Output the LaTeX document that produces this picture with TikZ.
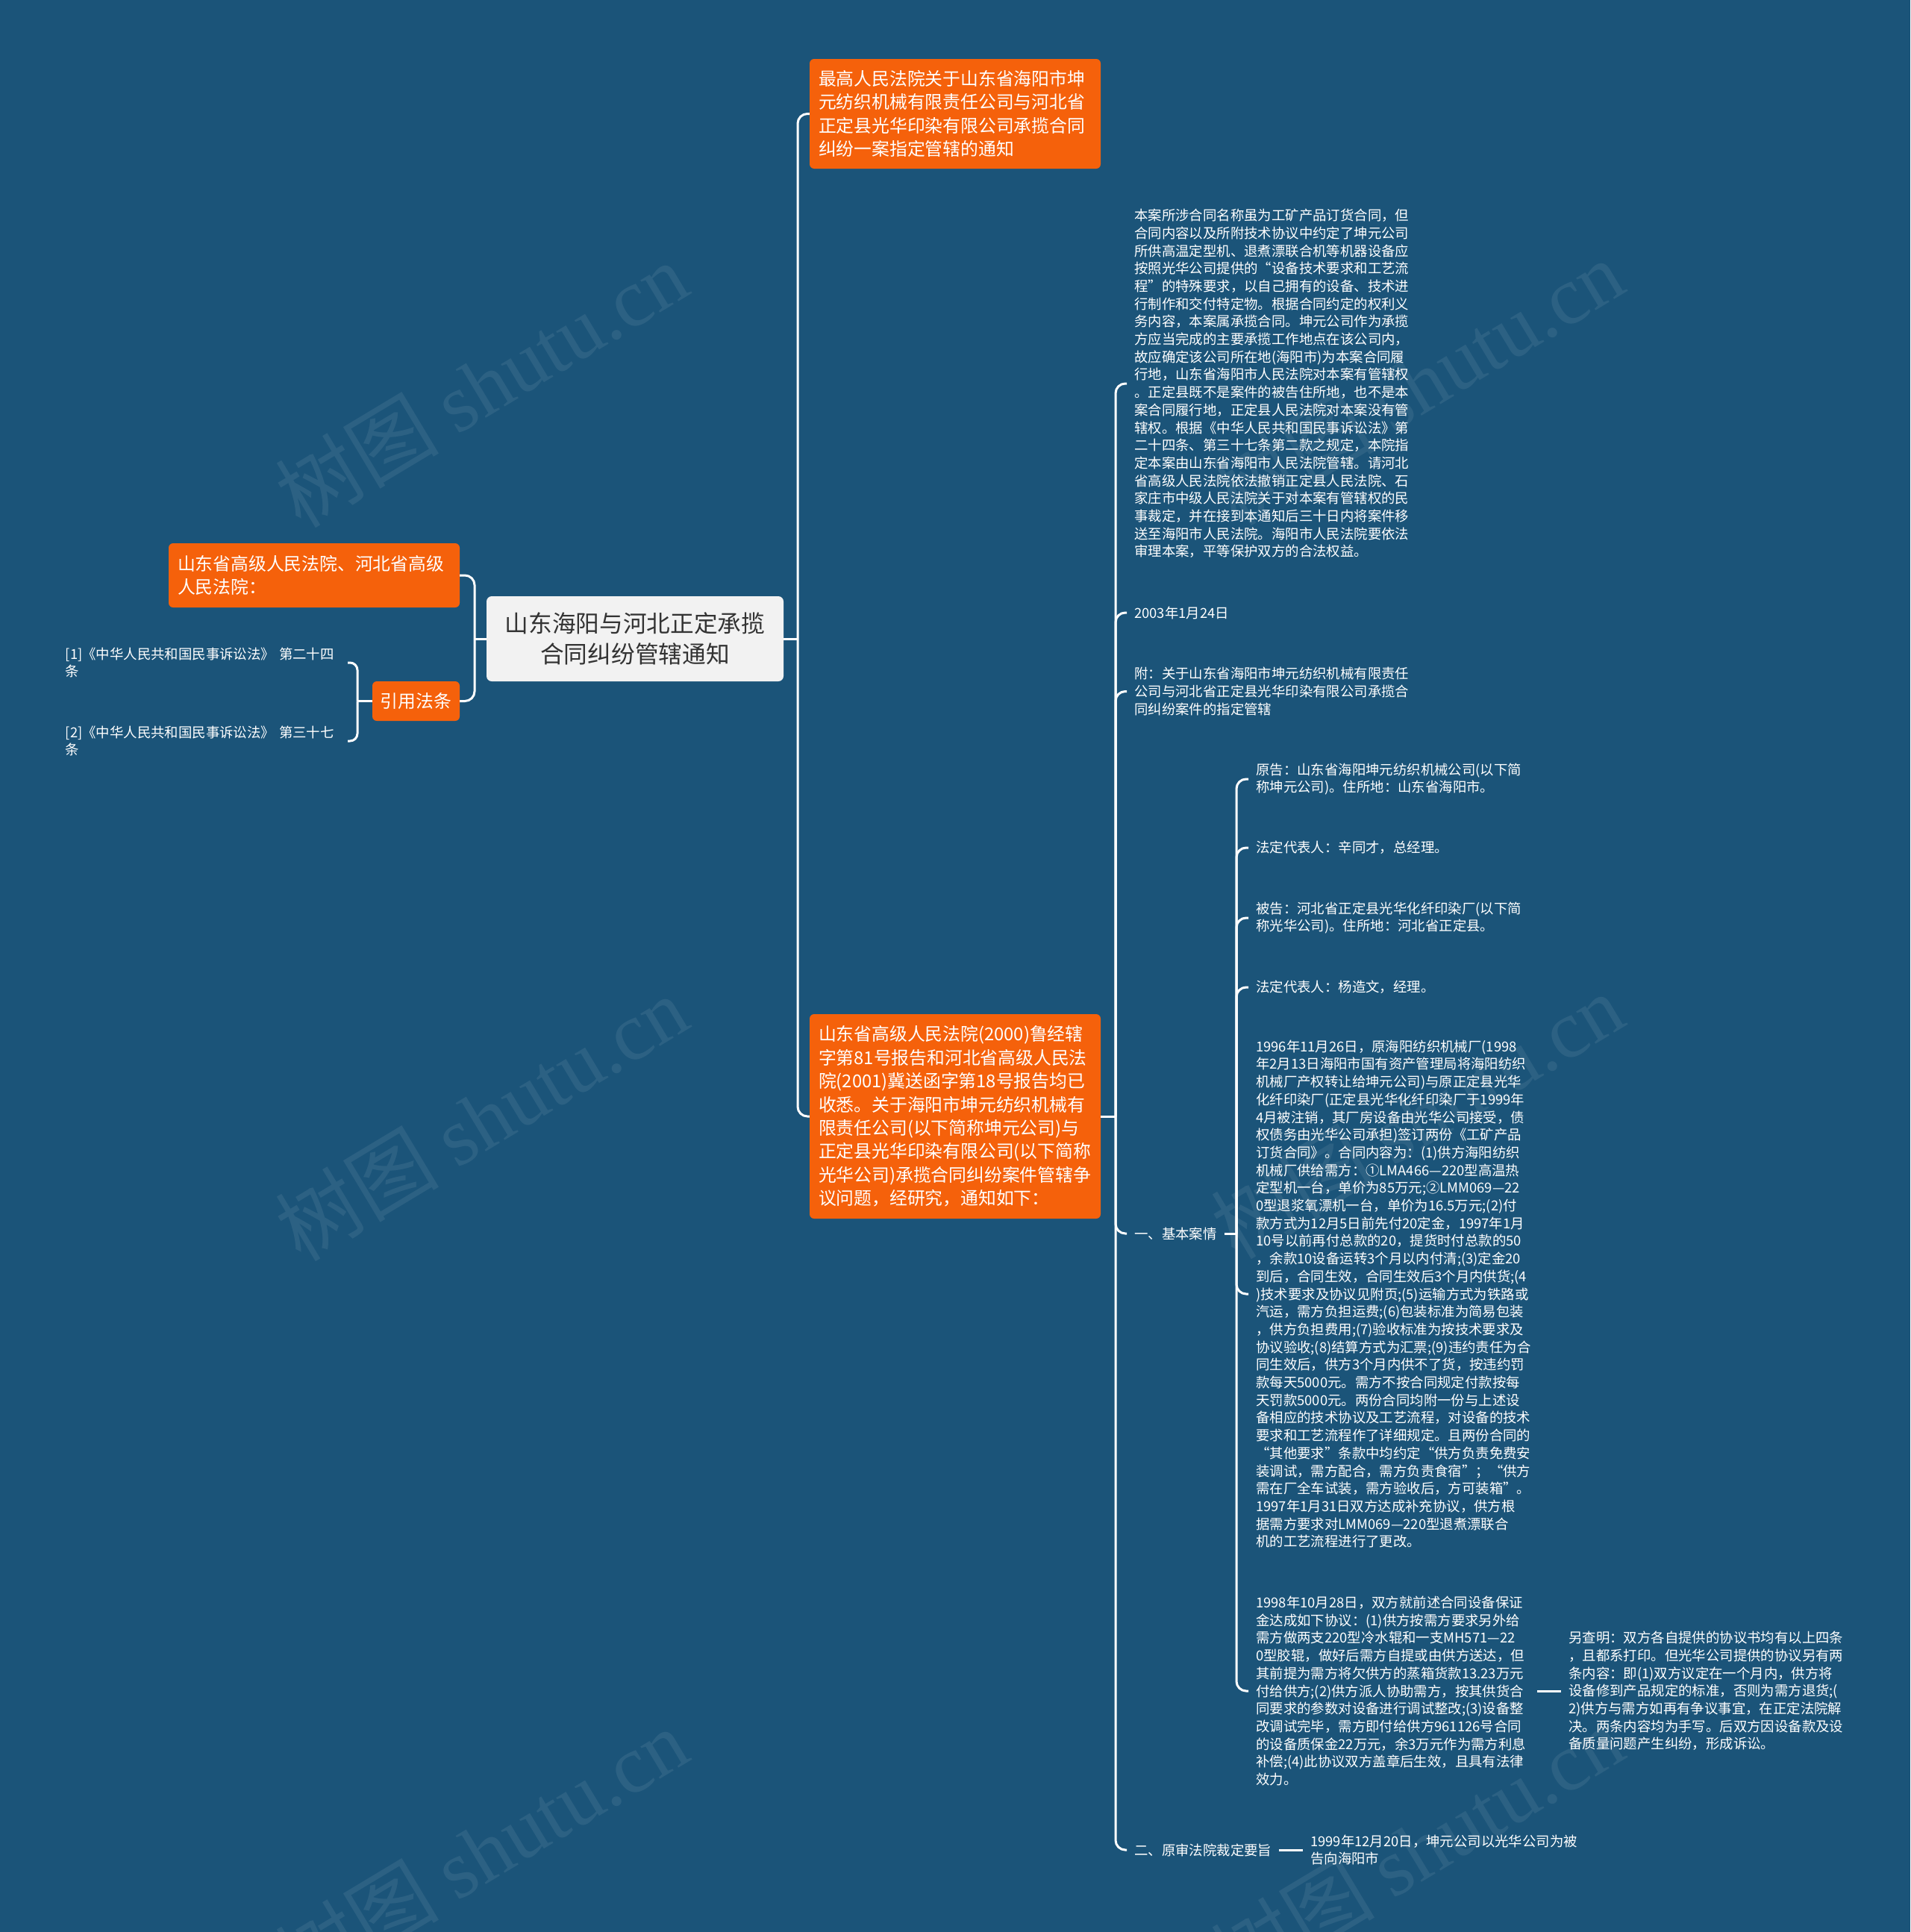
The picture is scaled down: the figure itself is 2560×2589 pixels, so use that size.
\documentclass[tikz,border=0pt]{standalone}
\usepackage{fontspec}
\setmainfont{Noto Sans CJK SC}
\newfontfamily\wmserif{Liberation Serif}
\definecolor{bgc}{RGB}{27,84,121}
\definecolor{orangec}{RGB}{245,97,11}
\definecolor{rootfill}{RGB}{242,242,242}
\definecolor{roottext}{RGB}{51,51,51}
\tikzset{
  conn/.style={draw=white, line width=3pt, rounded corners=13pt},
  stub/.style={draw=white, line width=3pt},
  rootbox/.style={fill=rootfill, rounded corners=7pt, text=roottext, align=center,
    font=\fontsize{31.7}{41}\selectfont, minimum width=398pt, minimum height=114pt, inner sep=0pt},
  obox/.style={fill=orangec, rounded corners=6pt, text=white, align=left,
    font=\fontsize{23.8}{31.4}\selectfont, text width=366pt, inner xsep=12pt, inner ysep=0pt},
  sbox/.style={fill=orangec, rounded corners=6pt, text=white, align=center,
    font=\fontsize{23.8}{31.4}\selectfont, inner sep=0pt},
  txt/.style={text=white, align=left, font=\fontsize{18.4}{23.7}\selectfont,
    inner xsep=10pt, inner ysep=2pt, anchor=west},
  leaf/.style={text=white, align=left, font=\fontsize{18.4}{23.7}\selectfont,
    inner xsep=8pt, inner ysep=2pt, text width=370pt, anchor=east},
  wm/.style={text=white, text opacity=0.08, font=\fontsize{110}{120}\selectfont, rotate=31}
}
\begin{document}
\begin{tikzpicture}[x=1pt,y=-1pt]
\fill[bgc] (0,0) rectangle (2560,2589);
\useasboundingbox (0,0) rectangle (2560,2589);

% watermarks
\node[wm] (w1) at (645,515) {树图 {\wmserif shutu.cn}};
\node[wm] (w2) at (645,1498) {树图 {\wmserif shutu.cn}};
\node[wm] (w3) at (645,2480) {树图 {\wmserif shutu.cn}};
\node[wm] (w4) at (1899,512) {树图 {\wmserif shutu.cn}};
\node[wm] (w5) at (1899,1495) {树图 {\wmserif shutu.cn}};
\node[wm] (w6) at (1899,2477) {树图 {\wmserif shutu.cn}};

% root
\node[rootbox] (root) at (851,856) {山东海阳与河北正定承揽\\合同纠纷管辖通知};

% left side
\node[obox, minimum height=86pt] (lo) at (421,771) {山东省高级人民法院、河北省高级\\人民法院：};
\node[sbox, minimum width=117pt, minimum height=53pt] (yy) at (557.5,939.5) {引用法条};
\node[leaf] (l1) at (466,888) {[1]《中华人民共和国民事诉讼法》 第二十四\\条};
\node[leaf] (l2) at (466,993) {[2]《中华人民共和国民事诉讼法》 第三十七\\条};

% right orange
\node[obox, minimum height=147pt] (top) at (1280,152.5) {最高人民法院关于山东省海阳市坤\\元纺织机械有限责任公司与河北省\\正定县光华印染有限公司承揽合同\\纠纷一案指定管辖的通知};
\node[obox, minimum height=274pt] (mid) at (1280,1496) {山东省高级人民法院(2000)鲁经辖\\字第81号报告和河北省高级人民法\\院(2001)冀送函字第18号报告均已\\收悉。关于海阳市坤元纺织机械有\\限责任公司(以下简称坤元公司)与\\正定县光华印染有限公司(以下简称\\光华公司)承揽合同纠纷案件管辖争\\议问题，经研究，通知如下：};

% children of mid
\node[txt] (long) at (1510,514) {本案所涉合同名称虽为工矿产品订货合同，但\\合同内容以及所附技术协议中约定了坤元公司\\所供高温定型机、退煮漂联合机等机器设备应\\按照光华公司提供的“设备技术要求和工艺流\\程”的特殊要求，以自己拥有的设备、技术进\\行制作和交付特定物。根据合同约定的权利义\\务内容，本案属承揽合同。坤元公司作为承揽\\方应当完成的主要承揽工作地点在该公司内，\\故应确定该公司所在地(海阳市)为本案合同履\\行地，山东省海阳市人民法院对本案有管辖权\\。正定县既不是案件的被告住所地，也不是本\\案合同履行地，正定县人民法院对本案没有管\\辖权。根据《中华人民共和国民事诉讼法》第\\二十四条、第三十七条第二款之规定，本院指\\定本案由山东省海阳市人民法院管辖。请河北\\省高级人民法院依法撤销正定县人民法院、石\\家庄市中级人民法院关于对本案有管辖权的民\\事裁定，并在接到本通知后三十日内将案件移\\送至海阳市人民法院。海阳市人民法院要依法\\审理本案，平等保护双方的合法权益。};
\node[txt] (date) at (1510,821) {2003年1月24日};
\node[txt] (fu) at (1510,926.5) {附：关于山东省海阳市坤元纺织机械有限责任\\公司与河北省正定县光华印染有限公司承揽合\\同纠纷案件的指定管辖};
\node[txt] (yi) at (1510,1653) {一、基本案情};
\node[txt] (er) at (1510,2479) {二、原审法院裁定要旨};

% children of yi
\node[txt] (yg) at (1673,1044) {原告：山东省海阳坤元纺织机械公司(以下简\\称坤元公司)。住所地：山东省海阳市。};
\node[txt] (fd1) at (1673,1136) {法定代表人：辛同才，总经理。};
\node[txt] (bg) at (1673,1230) {被告：河北省正定县光华化纤印染厂(以下简\\称光华公司)。住所地：河北省正定县。};
\node[txt] (fd2) at (1673,1323) {法定代表人：杨造文，经理。};
\node[txt] (c96) at (1673,1734) {1996年11月26日，原海阳纺织机械厂(1998\\年2月13日海阳市国有资产管理局将海阳纺织\\机械厂产权转让给坤元公司)与原正定县光华\\化纤印染厂(正定县光华化纤印染厂于1999年\\4月被注销，其厂房设备由光华公司接受，债\\权债务由光华公司承担)签订两份《工矿产品\\订货合同》。合同内容为：(1)供方海阳纺织\\机械厂供给需方：①LMA466—220型高温热\\定型机一台，单价为85万元;②LMM069—22\\0型退浆氧漂机一台，单价为16.5万元;(2)付\\款方式为12月5日前先付20定金，1997年1月\\10号以前再付总款的20，提货时付总款的50\\，余款10设备运转3个月以内付清;(3)定金20\\到后，合同生效，合同生效后3个月内供货;(4\\)技术要求及协议见附页;(5)运输方式为铁路或\\汽运，需方负担运费;(6)包装标准为简易包装\\，供方负担费用;(7)验收标准为按技术要求及\\协议验收;(8)结算方式为汇票;(9)违约责任为合\\同生效后，供方3个月内供不了货，按违约罚\\款每天5000元。需方不按合同规定付款按每\\天罚款5000元。两份合同均附一份与上述设\\备相应的技术协议及工艺流程，对设备的技术\\要求和工艺流程作了详细规定。且两份合同的\\“其他要求”条款中均约定“供方负责免费安\\装调试，需方配合，需方负责食宿”；“供方\\需在厂全车试装，需方验收后，方可装箱”。\\1997年1月31日双方达成补充协议，供方根\\据需方要求对LMM069—220型退煮漂联合\\机的工艺流程进行了更改。};
\node[txt, text width=367pt] (c98) at (1673,2266) {1998年10月28日，双方就前述合同设备保证\\金达成如下协议：(1)供方按需方要求另外给\\需方做两支220型冷水辊和一支MH571—22\\0型胶辊，做好后需方自提或由供方送达，但\\其前提为需方将欠供方的蒸箱货款13.23万元\\付给供方;(2)供方派人协助需方，按其供货合\\同要求的参数对设备进行调试整改;(3)设备整\\改调试完毕，需方即付给供方961126号合同\\的设备质保金22万元，余3万元作为需方利息\\补偿;(4)此协议双方盖章后生效，且具有法律\\效力。};
\node[txt] (lc) at (2092,2266) {另查明：双方各自提供的协议书均有以上四条\\，且都系打印。但光华公司提供的协议另有两\\条内容：即(1)双方议定在一个月内，供方将\\设备修到产品规定的标准，否则为需方退货;(\\2)供方与需方如再有争议事宜，在正定法院解\\决。两条内容均为手写。后双方因设备款及设\\备质量问题产生纠纷，形成诉讼。};
\node[txt] (c99) at (1746,2479) {1999年12月20日，坤元公司以光华公司为被\\告向海阳市};

% connectors: root
\coordinate (rR) at (1069,856);
\coordinate (rL) at (636,856);
\draw[stub] (root.east) -- (rR);
\draw[conn] (rR) |- (top.west);
\draw[conn] (rR) |- (mid.west);
\draw[stub] (root.west) -- (rL);
\draw[conn] (rL) |- (lo.east);
\draw[conn] (rL) |- (yy.east);
% yinyong -> leaves
\coordinate (yL) at (479,939.5);
\draw[stub] (yy.west) -- (yL);
\draw[conn, rounded corners=10pt] (yL) |- (l1.east);
\draw[conn, rounded corners=10pt] (yL) |- (l2.east);
% mid -> children
\coordinate (mR) at (1495,1496);
\draw[stub] (mid.east) -- (mR);
\foreach \n in {long,date,fu,yi,er} \draw[conn] (mR) |- (\n.west);
% yi -> children
\coordinate (yR) at (1657,1653);
\draw[stub] (yi.east) -- (yR);
\foreach \n in {yg,fd1,bg,fd2,c96,c98} \draw[conn] (yR) |- (\n.west);
% 1998 -> lc
\draw[stub] (c98.east) -- (lc.west);
% er -> 1999
\draw[stub] (er.east) -- (c99.west);
\end{tikzpicture}
\end{document}
